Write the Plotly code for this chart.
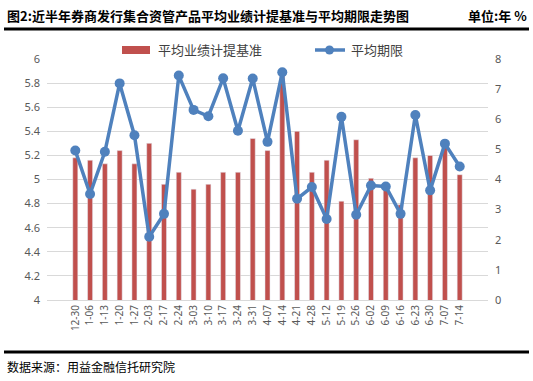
import plotly.graph_objects as go

categories = ["12-30", "1-06", "1-13", "1-20", "1-27", "2-03", "2-17", "2-24", "3-03", "3-10",
              "3-17", "3-24", "3-31", "4-07", "4-14", "4-21", "4-28", "5-12", "5-19", "5-26",
              "6-02", "6-09", "6-16", "6-23", "6-30", "7-07", "7-14"]
benchmark = [5.18, 5.16, 5.13, 5.24, 5.13, 5.30, 4.96, 5.06, 4.92, 4.96,
             5.06, 5.06, 5.34, 5.24, 5.87, 5.40, 5.06, 5.16, 4.82, 5.33,
             5.01, 4.96, 4.79, 5.18, 5.20, 5.27, 5.04]
term = [4.96, 3.52, 4.92, 7.19, 5.47, 2.10, 2.86, 7.45, 6.31, 6.10,
        7.36, 5.62, 7.35, 5.25, 7.56, 3.36, 3.75, 2.69, 6.08, 2.83,
        3.80, 3.77, 2.86, 6.14, 3.64, 5.19, 4.43]
left_ticks = [4, 4.2, 4.4, 4.6, 4.8, 5, 5.2, 5.4, 5.6, 5.8, 6]
right_ticks = [0, 1, 2, 3, 4, 5, 6, 7, 8]
bar_name = "平均业绩计提基准"
line_name = "平均期限"

W, H = 533, 381
ML, MR, MT, MB = 47, 45, 59, 81
PW, PH = W - ML - MR, H - MT - MB

def px(x):
    return (x - ML) / PW

def py(y):
    return (H - MB - y) / PH

RED = "#C0504D"
BLUE = "#4F81BD"
GRAY = "#595959"
FONT = "Noto Sans CJK SC"

fig = go.Figure()
fig.add_trace(go.Bar(x=categories, y=benchmark, name=bar_name, marker_color=RED,
                     width=0.34, yaxis="y", showlegend=False))
fig.add_trace(go.Scatter(x=categories, y=term, name=line_name, mode="lines+markers",
                         line=dict(color=BLUE, width=3.5),
                         marker=dict(size=10, color=BLUE), yaxis="y2", showlegend=False))

shapes = [
    dict(type="line", xref="paper", yref="paper", x0=px(4), x1=px(529), y0=py(29), y1=py(29),
         line=dict(color="black", width=3)),
    dict(type="line", xref="paper", yref="paper", x0=px(4), x1=px(529), y0=py(352), y1=py(352),
         line=dict(color="black", width=3)),
    dict(type="rect", xref="paper", yref="paper", x0=px(122), x1=px(150), y0=py(54), y1=py(46),
         fillcolor=RED, line=dict(width=0)),
    dict(type="line", xref="paper", yref="paper", x0=px(315), x1=px(345), y0=py(50), y1=py(50),
         line=dict(color=BLUE, width=3.5)),
    dict(type="circle", xref="paper", yref="paper", x0=px(325), x1=px(334), y0=py(54.5), y1=py(45.5),
         fillcolor=BLUE, line=dict(width=0)),
]

annotations = [
    dict(text="<b>图2:近半年券商发行集合资管产品平均业绩计提基准与平均期限走势图</b>",
         x=px(5), y=py(16), xref="paper", yref="paper", xanchor="left", yanchor="middle",
         showarrow=False, font=dict(family=FONT, size=13, color="black")),
    dict(text="<b>单位:年 %</b>", x=px(529), y=py(16), xref="paper", yref="paper",
         xanchor="right", yanchor="middle", showarrow=False,
         font=dict(family=FONT, size=13, color="black")),
    dict(text="数据来源：用益金融信托研究院", x=px(5), y=py(366), xref="paper", yref="paper",
         xanchor="left", yanchor="middle", showarrow=False,
         font=dict(family=FONT, size=12, color="black")),
    dict(text=bar_name, x=px(156), y=py(50), xref="paper", yref="paper",
         xanchor="left", yanchor="middle", showarrow=False,
         font=dict(family=FONT, size=13, color="#404040")),
    dict(text=line_name, x=px(349), y=py(50), xref="paper", yref="paper",
         xanchor="left", yanchor="middle", showarrow=False,
         font=dict(family=FONT, size=13, color="#404040")),
]

fig.update_layout(
    width=W, height=H,
    margin=dict(l=ML, r=MR, t=MT, b=MB, pad=0),
    paper_bgcolor="white", plot_bgcolor="white",
    showlegend=False,
    hovermode=False,
    bargap=0.6,
    shapes=shapes,
    annotations=annotations,
    font=dict(family=FONT, color=GRAY),
    xaxis=dict(type="category", tickangle=-90, tickfont=dict(size=10, color=GRAY, family="Noto Sans"),
               showgrid=False, showline=True, linecolor="#d9d9d9", linewidth=1, ticks=""),
    yaxis=dict(range=[4, 6], tickvals=left_ticks, ticktext=[f"{v:g}" for v in left_ticks],
               showgrid=True, gridcolor="#d9d9d9", gridwidth=1, zeroline=False,
               tickfont=dict(size=11, color=GRAY, family="Noto Sans"), ticks="", ticklabelstandoff=6),
    yaxis2=dict(range=[0, 8], tickvals=right_ticks, overlaying="y", side="right",
                showgrid=False, zeroline=False,
                tickfont=dict(size=11, color=GRAY, family="Noto Sans"), ticks="", ticklabelstandoff=6),
)

fig.write_html("out.html", config={"displayModeBar": False, "staticPlot": True},
               post_script="document.body.style.margin='0';document.body.style.padding='0';")
